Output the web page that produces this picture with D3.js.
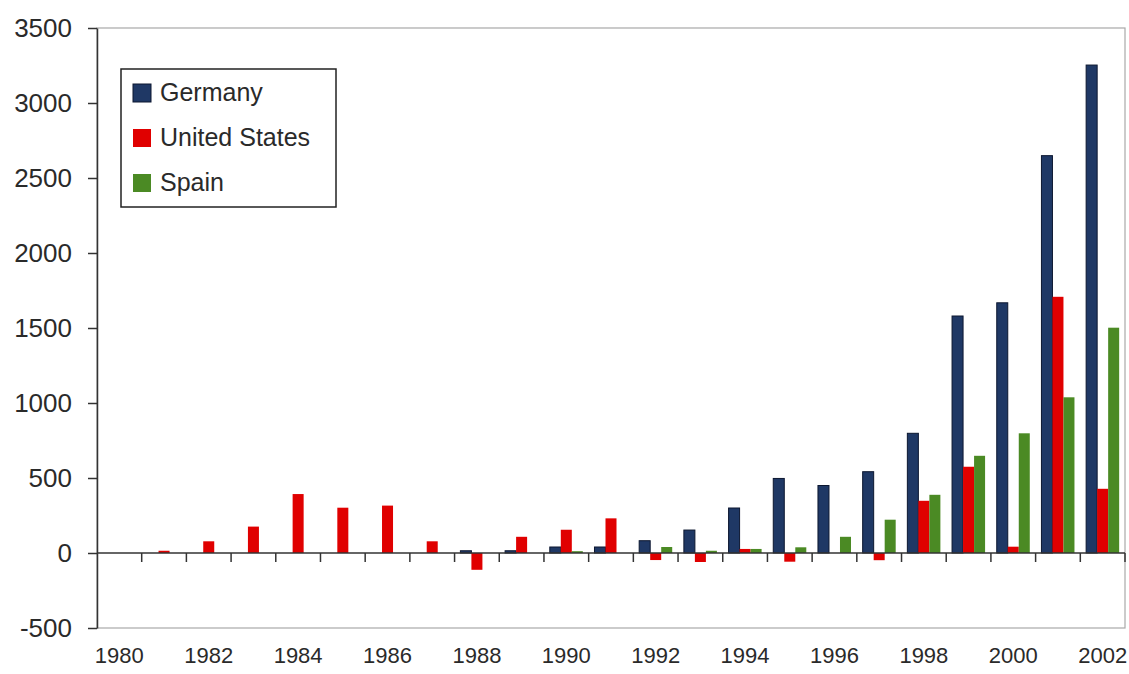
<!DOCTYPE html>
<html>
<head>
<meta charset="utf-8">
<script src="https://cdn.jsdelivr.net/npm/d3@7/dist/d3.min.js"></script>
<style>
  html, body { margin: 0; padding: 0; background: #fff; }
  svg { display: block; font-family: "Liberation Sans", Arial, sans-serif; }
</style>
</head>
<body>
<svg id="chart" width="1129" height="674"></svg>
<script>
const years = [1980,1981,1982,1983,1984,1985,1986,1987,1988,1989,1990,1991,1992,1993,1994,1995,1996,1997,1998,1999,2000,2001,2002];
const seriesNames = ["Germany", "United States", "Spain"];
const germany      = [0,0,0,0,0,0,0,0,15,15,40,40,82,153,300,497,450,542,798,1580,1668,2649,3253];
const unitedStates = [0,15,78,176,393,302,316,78,-112,108,155,231,-47,-60,27,-58,0,-48,348,575,42,1708,428];
const spain        = [0,0,0,0,0,0,0,0,0,0,12,0,40,15,27,38,108,222,388,648,798,1038,1502];
const yTicks = [-500,0,500,1000,1500,2000,2500,3000,3500];
const xLabelYears = [1980,1982,1984,1986,1988,1990,1992,1994,1996,1998,2000,2002];

const colors = { "Germany": "#1f3865", "United States": "#e00000", "Spain": "#4b8a24" };
const strokes = { "Germany": "#0c1730", "United States": "none", "Spain": "none" };
const seriesValues = { "Germany": germany, "United States": unitedStates, "Spain": spain };

const svg = d3.select("#chart");
const plotLeft = 97, plotRight = 1125, plotTop = 28, plotBottom = 628;

const x = d3.scaleBand().domain(years).range([plotLeft, plotRight]).padding(0);
const y = d3.scaleLinear().domain([-500, 3500]).range([plotBottom, plotTop]);
const x1 = d3.scaleBand().domain(seriesNames).range([0, x.bandwidth()]).paddingInner(0).paddingOuter(0.53);

// plot frame (light gray)
svg.append("rect")
  .attr("x", plotLeft).attr("y", plotTop)
  .attr("width", plotRight - plotLeft).attr("height", plotBottom - plotTop)
  .attr("fill", "none").attr("stroke", "#a8a8a8").attr("stroke-width", 1.2);

// bars
const rows = [];
seriesNames.forEach(name => {
  seriesValues[name].forEach((v, i) => {
    if (v !== 0) rows.push({ name, year: years[i], value: v });
  });
});
svg.append("g").selectAll("rect").data(rows).join("rect")
  .attr("x", d => x(d.year) + x1(d.name))
  .attr("width", x1.bandwidth())
  .attr("y", d => y(Math.max(0, d.value)))
  .attr("height", d => Math.abs(y(d.value) - y(0)))
  .attr("fill", d => colors[d.name])
  .attr("stroke", d => strokes[d.name])
  .attr("stroke-width", 1);

// y axis
const yAxis = d3.axisLeft(y).tickValues(yTicks).tickSize(9).tickSizeOuter(0).tickPadding(16).tickFormat(d => String(d));
const gy = svg.append("g").attr("transform", `translate(${plotLeft},0)`).call(yAxis);
gy.select(".domain").attr("stroke", "#333").attr("stroke-width", 1.5);
gy.selectAll(".tick line").attr("stroke", "#333").attr("stroke-width", 1.5);
gy.selectAll(".tick text").attr("font-size", 26).attr("fill", "#2a2a2a")
  .attr("font-family", "'Liberation Sans', Arial, sans-serif");

// zero line
svg.append("line")
  .attr("x1", plotLeft).attr("x2", plotRight)
  .attr("y1", y(0)).attr("y2", y(0))
  .attr("stroke", "#333").attr("stroke-width", 1.5);

// category boundary ticks on zero line
const boundaries = years.slice(1).map(yr => x(yr)).concat([plotRight]);
svg.append("g").selectAll("line").data(boundaries).join("line")
  .attr("x1", d => d).attr("x2", d => d)
  .attr("y1", y(0)).attr("y2", y(0) + 9)
  .attr("stroke", "#333").attr("stroke-width", 1.5);

// x labels
svg.append("g").selectAll("text").data(xLabelYears).join("text")
  .attr("x", d => x(d) + x.bandwidth() / 2)
  .attr("y", 663)
  .attr("text-anchor", "middle")
  .attr("font-size", 22)
  .attr("fill", "#2a2a2a")
  .text(d => d);

// legend
const lg = svg.append("g");
lg.append("rect")
  .attr("x", 121).attr("y", 69).attr("width", 215).attr("height", 138)
  .attr("fill", "#fff").attr("stroke", "#222").attr("stroke-width", 1.5);
const items = lg.selectAll("g.item").data(seriesNames).join("g").attr("class", "item")
  .attr("transform", (d, i) => `translate(0, ${i * 45})`);
items.append("rect")
  .attr("x", 133).attr("y", 84).attr("width", 18).attr("height", 18)
  .attr("fill", d => colors[d])
  .attr("stroke", d => strokes[d]).attr("stroke-width", 1);
items.append("text")
  .attr("x", 160).attr("y", 101)
  .attr("font-size", 25)
  .attr("fill", "#2a2a2a")
  .text(d => d);
</script>
</body>
</html>
